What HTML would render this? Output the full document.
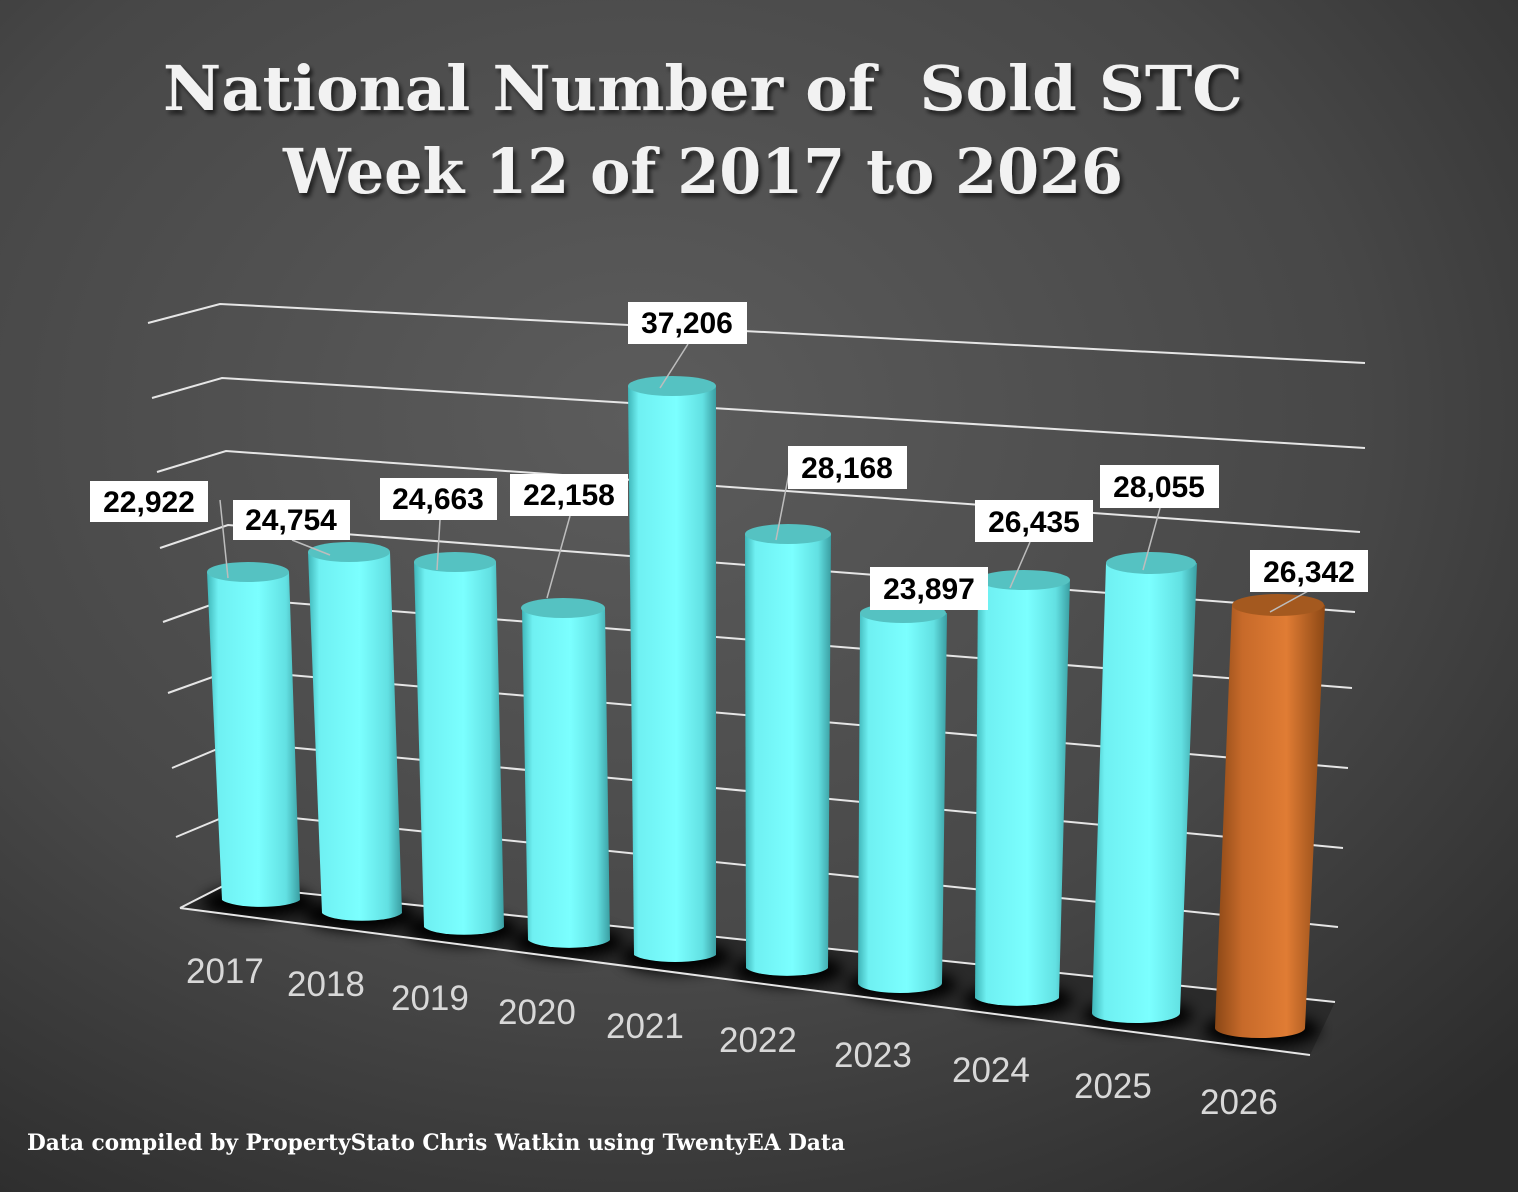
<!DOCTYPE html>
<html><head><meta charset="utf-8"><style>html,body{margin:0;padding:0;background:#444}svg{display:block}</style></head>
<body>
<svg width="1518" height="1192" viewBox="0 0 1518 1192" xmlns="http://www.w3.org/2000/svg">
<defs>
<radialGradient id="bg" cx="0.42" cy="0.35" r="0.8">
<stop offset="0" stop-color="#5c5c5c"/><stop offset="0.6" stop-color="#474747"/><stop offset="1" stop-color="#2c2c2c"/>
</radialGradient>
<linearGradient id="cy" x1="0" x2="1" y1="0" y2="0">
<stop offset="0" stop-color="#3fb5b8"/><stop offset="0.12" stop-color="#6ff0f2"/><stop offset="0.55" stop-color="#7bffff"/><stop offset="0.85" stop-color="#62e0e2"/><stop offset="1" stop-color="#3a9ea2"/>
</linearGradient>
<linearGradient id="or" x1="0" x2="1" y1="0" y2="0">
<stop offset="0" stop-color="#8a4716"/><stop offset="0.25" stop-color="#c76a2a"/><stop offset="0.65" stop-color="#e07c34"/><stop offset="1" stop-color="#8c4815"/>
</linearGradient>
<filter id="blur"><feGaussianBlur stdDeviation="7"/></filter>
<filter id="ts"><feDropShadow dx="3" dy="4" stdDeviation="2" flood-color="#000" flood-opacity="0.6"/></filter>
</defs>
<rect width="1518" height="1192" fill="url(#bg)"/>
<text x="703" y="110" text-anchor="middle" font-family="'DejaVu Serif','Liberation Serif',serif" font-weight="bold" font-size="62" fill="#f2f2f2" textLength="1080" lengthAdjust="spacingAndGlyphs" filter="url(#ts)">National Number of&#160; Sold STC</text>
<text x="703" y="193" text-anchor="middle" font-family="'DejaVu Serif','Liberation Serif',serif" font-weight="bold" font-size="62" fill="#f2f2f2" textLength="840" lengthAdjust="spacingAndGlyphs" filter="url(#ts)">Week 12 of 2017 to 2026</text>

<!-- floor -->
<polygon points="180,908 225,885 1335,1002 1310,1055" fill="#2a2a2a"/>
<g filter="url(#blur)" fill="#000">
<ellipse cx="258" cy="902" rx="55" ry="16"/>
<ellipse cx="360" cy="915" rx="55" ry="16"/>
<ellipse cx="462" cy="929" rx="55" ry="16"/>
<ellipse cx="568" cy="942" rx="55" ry="16"/>
<ellipse cx="676" cy="957" rx="55" ry="16"/>
<ellipse cx="788" cy="970" rx="55" ry="16"/>
<ellipse cx="902" cy="985" rx="55" ry="16"/>
<ellipse cx="1018" cy="1000" rx="55" ry="16"/>
<ellipse cx="1138" cy="1015" rx="55" ry="16"/>
<ellipse cx="1262" cy="1030" rx="58" ry="17"/>
</g>
<g stroke="#e6e6e6" stroke-width="2" fill="none">
<polyline points="148,323 220,304 1365,363"/>
<polyline points="152,398 222,378 1365,448"/>
<polyline points="157,472 226,451 1360,532"/>
<polyline points="160,548 228,525 1355,612"/>
<polyline points="163,622 230,598 1352,688"/>
<polyline points="168,693 232,670 1348,768"/>
<polyline points="172,768 234,742 1343,848"/>
<polyline points="176,837 236,812 1338,927"/>
<polyline points="180,908 225,885 1335,1002"/>
<line x1="180" y1="908" x2="1310" y2="1055"/>
</g>

<!-- cylinders -->
<g>
<path d="M207,572 L289,572 L300,900 A41,10 0 0 1 222,900 Z" fill="url(#cy)"/><ellipse cx="248" cy="572" rx="41" ry="10" fill="#55c2c2"/>
<path d="M308,552 L390,552 L402,913 A41,10 0 0 1 322,913 Z" fill="url(#cy)"/><ellipse cx="349" cy="552" rx="41" ry="10" fill="#55c2c2"/>
<path d="M414,562 L496,562 L504,927 A41,10 0 0 1 424,927 Z" fill="url(#cy)"/><ellipse cx="455" cy="562" rx="41" ry="10" fill="#55c2c2"/>
<path d="M522,608 L605,608 L610,940 A42,10 0 0 1 528,940 Z" fill="url(#cy)"/><ellipse cx="563" cy="608" rx="42" ry="10" fill="#55c2c2"/>
<path d="M628,386 L716,386 L716,955 A43,10 0 0 1 634,955 Z" fill="url(#cy)"/><ellipse cx="672" cy="386" rx="44" ry="10" fill="#55c2c2"/>
<path d="M745,534 L831,534 L828,968 A42,10 0 0 1 746,968 Z" fill="url(#cy)"/><ellipse cx="788" cy="534" rx="43" ry="10" fill="#55c2c2"/>
<path d="M860,613 L947,613 L942,983 A42,10 0 0 1 858,983 Z" fill="url(#cy)"/><ellipse cx="903" cy="613" rx="43" ry="10" fill="#55c2c2"/>
<path d="M978,580 L1070,580 L1059,998 A43,10 0 0 1 975,998 Z" fill="url(#cy)"/><ellipse cx="1024" cy="580" rx="46" ry="10" fill="#55c2c2"/>
<path d="M1106,563 L1197,563 L1180,1013 A44,10 0 0 1 1092,1013 Z" fill="url(#cy)"/><ellipse cx="1151" cy="563" rx="45" ry="11" fill="#55c2c2"/>
<path d="M1232,605 L1325,605 L1305,1028 A45,10 0 0 1 1215,1028 Z" fill="url(#or)"/><ellipse cx="1278" cy="605" rx="46" ry="11" fill="#a4591f"/>
</g>

<!-- leader lines -->
<g stroke="#bdbdbd" stroke-width="1.5">
<line x1="220" y1="500" x2="228" y2="578"/>
<line x1="292" y1="540" x2="330" y2="555"/>
<line x1="440" y1="520" x2="437" y2="570"/>
<line x1="570" y1="516" x2="547" y2="598"/>
<line x1="688" y1="344" x2="660" y2="388"/>
<line x1="790" y1="468" x2="776" y2="540"/>
<line x1="1030" y1="542" x2="1010" y2="588"/>
<line x1="1160" y1="508" x2="1143" y2="570"/>
<line x1="1310" y1="590" x2="1270" y2="612"/>
</g>

<!-- labels -->
<g font-family="'Liberation Sans',sans-serif" font-weight="bold" font-size="30" fill="#000" text-anchor="middle">
<rect x="90" y="481" width="118" height="41" fill="#fff"/><text x="149" y="512">22,922</text>
<rect x="233" y="500" width="117" height="40" fill="#fff"/><text x="291" y="530">24,754</text>
<rect x="380" y="478" width="117" height="42" fill="#fff"/><text x="438" y="509">24,663</text>
<rect x="510" y="474" width="118" height="42" fill="#fff"/><text x="569" y="505">22,158</text>
<rect x="628" y="302" width="119" height="42" fill="#fff"/><text x="687" y="333">37,206</text>
<rect x="788" y="446" width="119" height="43" fill="#fff"/><text x="847" y="478">28,168</text>
<rect x="870" y="567" width="118" height="43" fill="#fff"/><text x="929" y="599">23,897</text>
<rect x="975" y="500" width="118" height="42" fill="#fff"/><text x="1034" y="532">26,435</text>
<rect x="1100" y="465" width="119" height="43" fill="#fff"/><text x="1159" y="497">28,055</text>
<rect x="1250" y="550" width="118" height="42" fill="#fff"/><text x="1309" y="582">26,342</text>
</g>

<!-- years -->
<g font-family="'Liberation Sans',sans-serif" font-size="35" fill="#d8d8d8">
<text x="186" y="983">2017</text>
<text x="287" y="996">2018</text>
<text x="391" y="1010">2019</text>
<text x="498" y="1024">2020</text>
<text x="606" y="1038">2021</text>
<text x="719" y="1052">2022</text>
<text x="834" y="1067">2023</text>
<text x="952" y="1082">2024</text>
<text x="1074" y="1098">2025</text>
<text x="1200" y="1114">2026</text>
</g>

<text x="27" y="1150" font-family="'DejaVu Serif','Liberation Serif',serif" font-weight="bold" font-size="22" fill="#fff" textLength="818" lengthAdjust="spacingAndGlyphs">Data compiled by PropertyStato Chris Watkin using TwentyEA Data</text>
</svg>
</body></html>
